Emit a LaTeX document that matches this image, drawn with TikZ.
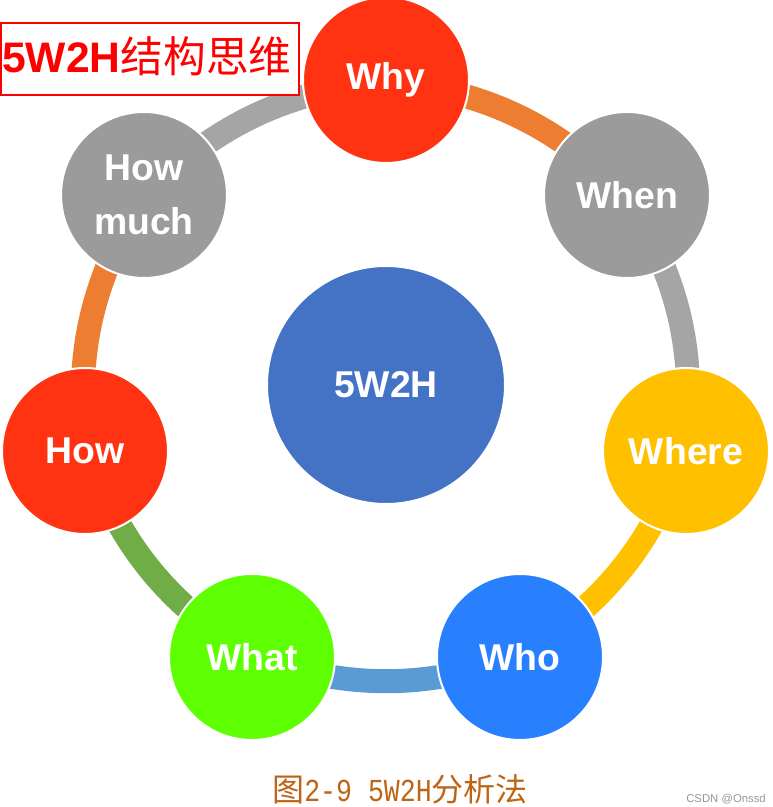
\documentclass[tikz,border=0pt]{standalone}
\usepackage{fontspec}
\usepackage{graphicx}
\setmainfont{Liberation Sans}
\newfontfamily\cjk{Noto Sans CJK SC}
\newfontfamily\monof{Liberation Mono}
\usetikzlibrary{backgrounds}
\definecolor{cRed}{RGB}{255,51,17}
\definecolor{cGray}{RGB}{155,155,155}
\definecolor{cYellow}{RGB}{255,192,0}
\definecolor{cBlue}{RGB}{40,128,255}
\definecolor{cGreen}{RGB}{94,255,0}
\definecolor{cCenter}{RGB}{68,114,196}
\definecolor{rOrange}{RGB}{237,125,49}
\definecolor{rGray}{RGB}{165,165,165}
\definecolor{rYellow}{RGB}{255,192,0}
\definecolor{rBlue}{RGB}{91,155,213}
\definecolor{rGreen}{RGB}{112,173,71}
\definecolor{capBrown}{RGB}{190,100,20}
\tikzset{
  ball/.style={circle, draw=white, line width=1.5pt, minimum size=124.5pt, inner sep=0pt,
    text=white, align=center, font=\bfseries\fontsize{28}{41}\selectfont},
  hub/.style={ball, minimum size=178.5pt},
  ring/.style={line width=18pt, bend left=18},
}
\begin{document}
\begin{tikzpicture}[x=0.75pt,y=0.75pt]
\useasboundingbox (0,0) rectangle (773,807);
\node[ball, fill=cRed] (why) at (386,727) {Why};
\node[ball, fill=cGray] (when) at (627,612) {When};
\node[ball, fill=cYellow] (where) at (686,356) {Where};
\node[ball, fill=cBlue] (who) at (520,150) {Who};
\node[ball, fill=cGreen] (what) at (252,150) {What};
\node[ball, fill=cRed] (how) at (85,356) {How};
\node[ball, fill=cGray] (howmuch) at (144,612) {How\\much};
\node[hub, fill=cCenter] (hubc) at (386,422) {5W2H};
\begin{pgfonlayer}{background}
\draw[ring, rOrange] (why.center) to (when.center);
\draw[ring, rGray] (when.center) to (where.center);
\draw[ring, rYellow] (where.center) to (who.center);
\draw[ring, rBlue] (who.center) to (what.center);
\draw[ring, rGreen] (what.center) to (how.center);
\draw[ring, rOrange] (how.center) to (howmuch.center);
\draw[ring, rGray] (howmuch.center) to (why.center);
\end{pgfonlayer}
\node[draw=red, line width=1.5pt, fill=white, minimum width=223.5pt, minimum height=54pt,
  inner sep=0pt, anchor=north west] (titlebox) at (0,785) {};
\node[anchor=base west, inner sep=0pt, text=red, font=\fontsize{32}{36}\selectfont] (title) at (2,734)
  {\textbf{5W2H}{\cjk 结构思维}};
\node[anchor=base west, inner sep=0pt, text=capBrown, font=\fontsize{24}{28}\selectfont] (caption) at (272,5)
  {{\cjk 图}\scalebox{0.83}[1]{\monof 2-9 5W2H}{\cjk 分析法}};
\node[anchor=base west, inner sep=0pt, text={rgb,255:red,150;green,150;blue,150}, font=\fontsize{8.5}{10}\selectfont] (mark) at (686,4) {CSDN @Onssd};
\end{tikzpicture}
\end{document}
